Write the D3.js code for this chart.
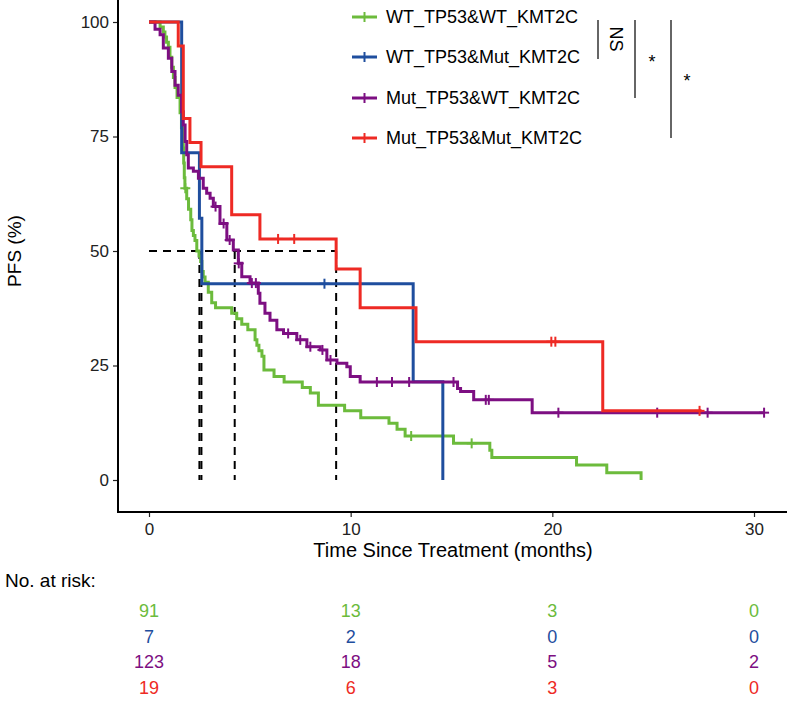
<!DOCTYPE html>
<html><head><meta charset="utf-8">
<script src="https://cdn.jsdelivr.net/npm/d3@7"></script>
<style>body{margin:0;background:#fff}svg{display:block;font-family:"Liberation Sans",Arial,sans-serif}</style>
</head><body><svg id="c" width="787" height="710"></svg>
<script>
// ---- data ----
const groups = ["WT_TP53&WT_KMT2C","WT_TP53&Mut_KMT2C","Mut_TP53&WT_KMT2C","Mut_TP53&Mut_KMT2C"];
const colors = ["#6CBB3C","#1F4E9E","#7D0F82","#EE2A24"];

const greenT = [0,0.55,0.71,0.79,0.87,0.96,1.04,1.13,1.21,1.29,1.39,1.54,1.61,1.70,1.72,1.75,1.78,1.87,1.96,2.07,2.13,2.20,2.28,2.37,2.48,2.56,2.62,2.69,2.78,2.94,3.11,3.3,4.1,4.35,4.6,4.9,5.26,5.35,5.45,5.6,5.7,6.2,6.7,7.6,8.0,8.4,9.7,10.5,11.9,12.3,12.7,15.1,16.9,17.0,21.2,22.7,24.4];
const greenS = [100,98.9,97.8,96.7,95.6,94.5,92.3,90.1,87.9,85.7,83.5,80.2,76.9,72.5,69.2,66.0,63.7,61.4,59.1,56.8,54.5,53.4,52.3,50.0,48.9,47.7,45.5,44.3,43.2,41.0,38.7,37.6,36.4,35.2,34.0,32.8,30.6,29.4,28.2,27.0,24.0,22.6,21.4,20.2,19.0,16.3,15.1,13.6,12.4,11.1,9.6,8.0,6.5,4.9,3.3,1.6,0];
const greenCens = [1.8,13.0,16.0];

const blueT = [0,1.62,2.5,2.62,13.1,14.57];
const blueS = [100,71.43,57.14,42.86,21.43,0];
const blueCens = [8.7];

const purpleT = [0,0.3,0.55,0.71,0.96,1.13,1.29,1.45,1.62,1.70,1.79,1.87,1.95,2.2,2.45,2.69,2.86,3.03,3.19,3.52,3.86,4.18,4.43,4.6,5.01,5.42,5.5,5.75,6.0,6.34,6.67,7.33,7.83,8.49,8.82,9.32,9.81,9.98,10.47,15.3,15.45,16.1,19.0,30.5];
const purpleS = [100,98.4,97.2,94.3,92.1,89.2,86.2,84.0,80.4,77.5,73.9,71.0,68.1,67.4,65.9,63.7,62.6,61.5,59.7,56.0,52.4,50.2,47.3,44.4,43.0,40.8,38.6,36.4,34.9,32.8,32.0,30.6,29.1,28.4,26.2,25.5,24.7,22.6,21.4,20.0,19.3,17.5,14.7,14.7];
const purpleCens = [3.3,3.7,4.0,4.45,5.1,5.3,6.9,7.5,8.0,8.6,9.0,11.3,12.05,12.9,15.1,16.7,16.85,20.3,25.2,27.7,30.5];

const redT = [0,1.45,1.7,2.03,2.58,4.1,5.5,9.28,10.47,13.24,22.5,27.4];
const redS = [100,94.74,78.95,73.68,68.42,57.89,52.63,46.05,37.6,30.2,15.1,15.1];
const redCens = [6.4,7.2,19.95,20.15,27.3];

const medians = [2.5,2.6,4.25,9.28];
const xTicks = [0,10,20,30];
const yTicks = [0,25,50,75,100];
const riskTimes = [0,10,20,30];
const riskGreen = [91,13,3,0];
const riskBlue = [7,2,0,0];
const riskPurple = [123,18,5,2];
const riskRed = [19,6,3,0];
const sigLabels = ["NS","*","*"];

// ---- drawing ----
const series = [
  {T:greenT,S:greenS,C:greenCens},
  {T:blueT,S:blueS,C:blueCens},
  {T:purpleT,S:purpleS,C:purpleCens},
  {T:redT,S:redS,C:redCens}
];
const risks = [riskGreen,riskBlue,riskPurple,riskRed];

const svg = d3.select("#c");
const x = d3.scaleLinear().domain([0,30]).range([149,754]);
const y = d3.scaleLinear().domain([0,100]).range([480,22]);
const axisX0 = 118, axisY0 = 512;

function survAt(T,S,t){let v=S[0];for(let i=0;i<T.length;i++){if(T[i]<=t)v=S[i];}return v;}

// axes
const ya = svg.append("g").attr("transform",`translate(${axisX0},0)`)
  .call(d3.axisLeft(y).tickValues(yTicks).tickSize(5).tickPadding(4));
ya.select(".domain").remove();
ya.selectAll("text").attr("font-size",17).attr("fill","#222").attr("font-family","Liberation Sans, Arial");
ya.selectAll("line").attr("stroke","#222").attr("stroke-width",1.2);
svg.append("line").attr("x1",axisX0).attr("x2",axisX0).attr("y1",0).attr("y2",axisY0+1).attr("stroke","#000").attr("stroke-width",2);

const xa = svg.append("g").attr("transform",`translate(0,${axisY0})`)
  .call(d3.axisBottom(x).tickValues(xTicks).tickSize(5).tickPadding(6));
xa.select(".domain").remove();
xa.selectAll("text").attr("font-size",17).attr("fill","#222").attr("font-family","Liberation Sans, Arial");
xa.selectAll("line").attr("stroke","#222").attr("stroke-width",1.2);
svg.append("line").attr("x1",axisX0-1).attr("x2",787).attr("y1",axisY0).attr("y2",axisY0).attr("stroke","#000").attr("stroke-width",2);

svg.append("text").attr("x",453).attr("y",557).attr("text-anchor","middle").attr("font-size",20).attr("fill","#000")
  .text("Time Since Treatment (months)");
svg.append("text").attr("transform","translate(21,251) rotate(-90)").attr("text-anchor","middle").attr("font-size",19).attr("fill","#000")
  .text("PFS (%)");

// median lines
const maxMed = d3.max(medians);
svg.append("line").attr("x1",x(0)).attr("x2",x(maxMed)).attr("y1",y(50)).attr("y2",y(50))
  .attr("stroke","#000").attr("stroke-width",2).attr("stroke-dasharray","8,6");
medians.forEach(m=>{
  svg.append("line").attr("x1",x(m)).attr("x2",x(m)).attr("y1",y(50)).attr("y2",y(0))
    .attr("stroke","#000").attr("stroke-width",2).attr("stroke-dasharray","8,6");
});

// curves
const line = d3.line().x(d=>x(d[0])).y(d=>y(d[1])).curve(d3.curveStepAfter);
series.forEach((s,i)=>{
  const pts = s.T.map((t,j)=>[t,s.S[j]]);
  svg.append("path").attr("d",line(pts)).attr("fill","none").attr("stroke",colors[i]).attr("stroke-width",3);
  s.C.forEach(c=>{
    const cx=x(c), cy=y(survAt(s.T,s.S,c));
    svg.append("line").attr("x1",cx).attr("x2",cx).attr("y1",cy-5).attr("y2",cy+5).attr("stroke",colors[i]).attr("stroke-width",2);
    svg.append("line").attr("x1",cx-5).attr("x2",cx+5).attr("y1",cy).attr("y2",cy).attr("stroke",colors[i]).attr("stroke-width",2);
  });
});

// legend
const legY = [17,57,98,138];
groups.forEach((g,i)=>{
  const ly = legY[i];
  svg.append("line").attr("x1",352).attr("x2",377).attr("y1",ly).attr("y2",ly).attr("stroke",colors[i]).attr("stroke-width",3);
  svg.append("line").attr("x1",364.5).attr("x2",364.5).attr("y1",ly-5).attr("y2",ly+5).attr("stroke",colors[i]).attr("stroke-width",2);
  svg.append("text").attr("x",386).attr("y",ly+6).attr("font-size",18).attr("fill","#000").text(g);
});

// significance brackets
const brX = [598,635,671], brBottom = [59,98,138];
brX.forEach((bx,i)=>{
  svg.append("line").attr("x1",bx).attr("x2",bx).attr("y1",20).attr("y2",brBottom[i]).attr("stroke","#333").attr("stroke-width",1.5);
});
svg.append("text").attr("transform","translate(610,39) rotate(90)").attr("text-anchor","middle").attr("font-size",18).attr("fill","#000").text(sigLabels[0]);
svg.append("text").attr("x",652).attr("y",68).attr("text-anchor","middle").attr("font-size",18).attr("fill","#000").text(sigLabels[1]);
svg.append("text").attr("x",687).attr("y",87).attr("text-anchor","middle").attr("font-size",18).attr("fill","#000").text(sigLabels[2]);

// risk table
svg.append("text").attr("x",5).attr("y",587).attr("font-size",19).attr("fill","#000").text("No. at risk:");
const rowY = [617,643,668,694];
risks.forEach((r,i)=>{
  r.forEach((v,j)=>{
    svg.append("text").attr("x",x(riskTimes[j])).attr("y",rowY[i]).attr("text-anchor","middle")
      .attr("font-size",18).attr("fill",colors[i]).text(v);
  });
});
</script></body></html>
